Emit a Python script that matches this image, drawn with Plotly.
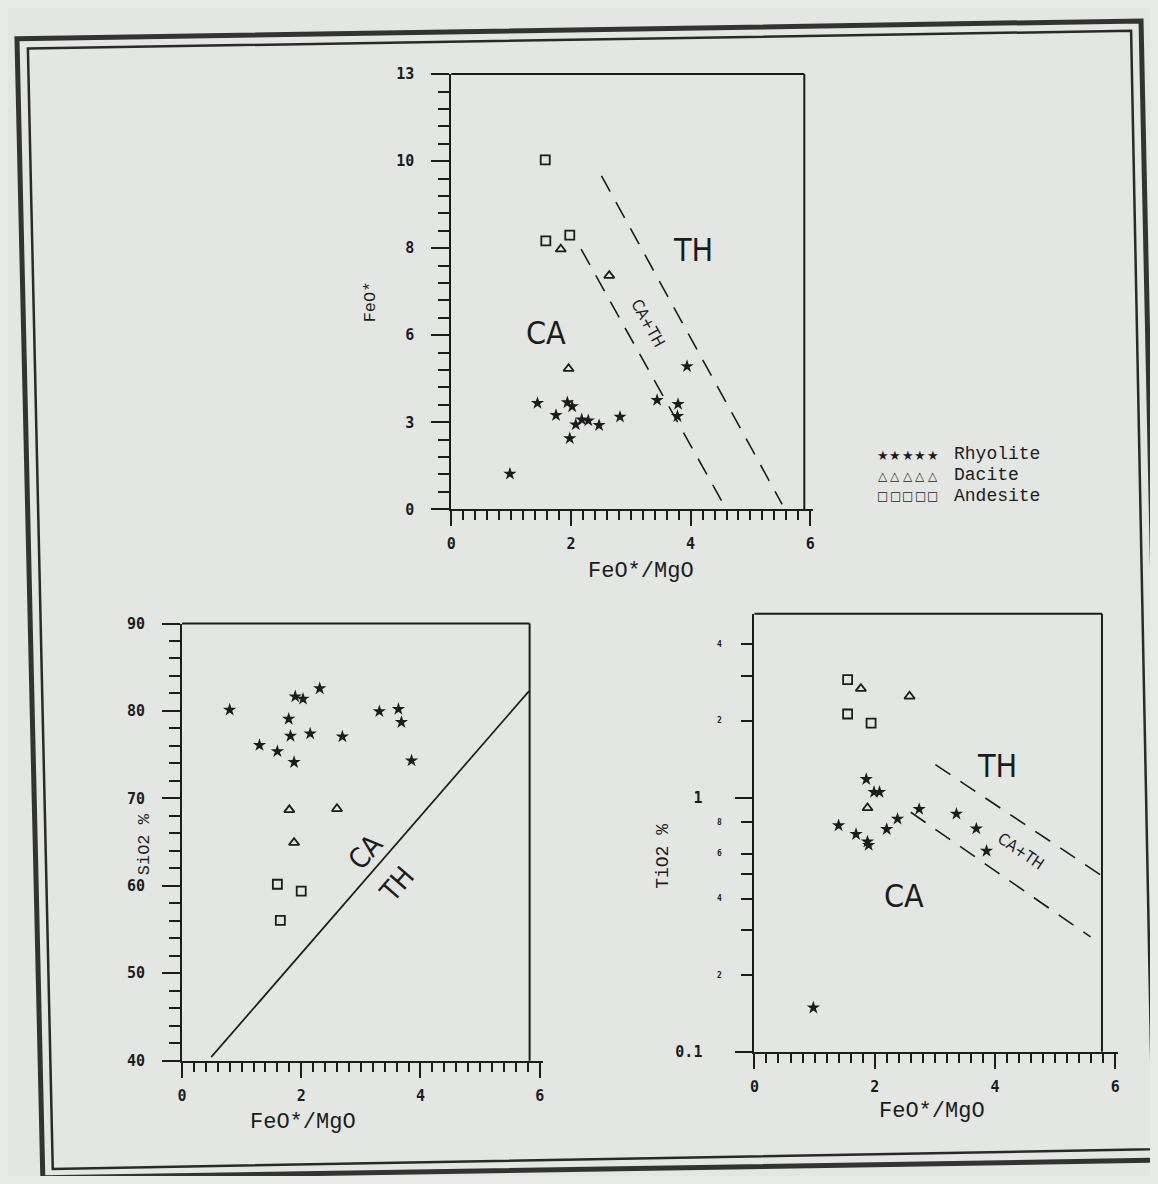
import math
import plotly.graph_objects as go

# page window is 1158x1184; the html body keeps its default 8px margin
WIN_W, WIN_H = 1158, 1184
PAD = 8
FW, FH = WIN_W - 2 * PAD, WIN_H - 2 * PAD

# ---------------- data: top panel (FeO* vs FeO*/MgO) ----------------
top_rhy_x = [0.98, 1.44, 1.75, 1.94, 2.02, 1.98, 2.08, 2.18, 2.29, 2.47, 2.82, 3.44, 3.79, 3.78, 3.94]
top_rhy_y = [1.06, 3.17, 2.81, 3.19, 3.07, 2.12, 2.53, 2.68, 2.65, 2.51, 2.76, 3.26, 3.14, 2.78, 4.27]
top_dac_x = [1.83, 2.64, 1.96]
top_dac_y = [7.77, 6.98, 4.20]
top_and_x = [1.57, 1.58, 1.98]
top_and_y = [10.44, 8.02, 8.19]
top_line1_x = [2.17, 4.55]
top_line1_y = [7.77, 0.15]
top_line2_x = [2.51, 5.53]
top_line2_y = [9.96, 0.15]
top_ytickvals = [0, 2.6, 5.2, 7.8, 10.4, 13]
top_yticktext = ["0", "3", "6", "8", "10", "13"]

# ---------------- data: bottom-left panel (SiO2 vs FeO*/MgO) ----------------
bl_rhy_x = [0.80, 1.30, 1.60, 1.79, 1.82, 1.88, 1.90, 2.03, 2.15, 2.31, 2.69, 3.31, 3.63, 3.68, 3.85]
bl_rhy_y = [80.13, 76.08, 75.37, 79.08, 77.13, 74.13, 81.64, 81.37, 77.40, 82.57, 77.06, 79.95, 80.21, 78.71, 74.32]
bl_dac_x = [1.80, 1.88, 2.60]
bl_dac_y = [68.69, 64.94, 68.81]
bl_and_x = [1.60, 2.00, 1.65]
bl_and_y = [60.18, 59.39, 56.05]
bl_line_x = [0.49, 5.82]
bl_line_y = [40.4, 82.27]

# ---------------- data: bottom-right panel (TiO2 vs FeO*/MgO, log) ----------------
br_rhy_x = [1.86, 1.99, 2.08, 1.40, 1.69, 1.88, 1.90, 2.20, 2.38, 2.74, 3.36, 3.69, 3.86, 0.98]
br_rhy_y = [1.18, 1.05, 1.05, 0.776, 0.717, 0.67, 0.65, 0.75, 0.824, 0.90, 0.862, 0.754, 0.616, 0.149]
br_dac_x = [1.77, 2.58, 1.88]
br_dac_y = [2.68, 2.50, 0.91]
br_and_x = [1.55, 1.55, 1.94]
br_and_y = [2.91, 2.13, 1.96]
br_line1_x = [3.01, 5.82]
br_line1_y = [1.346, 0.485]
br_line2_x = [2.60, 5.59]
br_line2_y = [0.875, 0.283]
br_minor_vals = [0.2, 0.3, 0.4, 0.5, 0.6, 0.8, 2, 3, 4]
br_small_vals = [4, 2, 0.8, 0.6, 0.4, 0.2]
br_small_text = ["4", "2", "8", "6", "4", "2"]

legend_names = ["Rhyolite", "Dacite", "Andesite"]
legend_glyphs = ["\u2605", "\u25b3", "\u25a1"]

# ---------------- helpers (window pixel -> paper fraction) ----------------
def px(x):
    return (x - PAD) / FW

def py(y):
    return 1 - (y - PAD) / FH

INK = "#1c1c1c"
TICKFONT = dict(family="DejaVu Sans Mono", size=15, color=INK, weight="bold")
TITLEFAM = "Liberation Mono"
REGFONT = "DejaVu Sans Condensed, Liberation Sans Narrow, Roboto Condensed, Arial Narrow, DejaVu Sans, sans-serif"

fig = go.Figure()

def add_points(xa, ya, rx, ry, dx, dy, ax_, ay_):
    xr = "x" if xa == 1 else f"x{xa}"
    yr = "y" if ya == 1 else f"y{ya}"
    fig.add_trace(go.Scatter(x=rx, y=ry, mode="markers", xaxis=xr, yaxis=yr,
                             marker=dict(symbol="star", size=10, color=INK, line=dict(width=0))))
    fig.add_trace(go.Scatter(x=dx, y=dy, mode="markers", xaxis=xr, yaxis=yr,
                             marker=dict(symbol="triangle-up-open", size=9, color=INK, line=dict(width=1.8, color=INK))))
    fig.add_trace(go.Scatter(x=ax_, y=ay_, mode="markers", xaxis=xr, yaxis=yr,
                             marker=dict(symbol="square-open", size=9, color=INK, line=dict(width=1.8, color=INK))))

add_points(1, 1, top_rhy_x, top_rhy_y, top_dac_x, top_dac_y, top_and_x, top_and_y)
add_points(2, 2, bl_rhy_x, bl_rhy_y, bl_dac_x, bl_dac_y, bl_and_x, bl_and_y)
add_points(3, 3, br_rhy_x, br_rhy_y, br_dac_x, br_dac_y, br_and_x, br_and_y)

dash = "18px,12px"
for lx, ly in [(top_line1_x, top_line1_y), (top_line2_x, top_line2_y)]:
    fig.add_trace(go.Scatter(x=lx, y=ly, mode="lines", xaxis="x", yaxis="y",
                             line=dict(color=INK, width=1.6, dash=dash)))
fig.add_trace(go.Scatter(x=bl_line_x, y=bl_line_y, mode="lines", xaxis="x2", yaxis="y2",
                         line=dict(color=INK, width=1.7)))
for lx, ly in [(br_line1_x, br_line1_y), (br_line2_x, br_line2_y)]:
    fig.add_trace(go.Scatter(x=lx, y=ly, mode="lines", xaxis="x3", yaxis="y3",
                             line=dict(color=INK, width=1.6, dash=dash)))

# ---------------- axes ----------------
def xaxis_cfg(d0, d1, anchor):
    return dict(domain=[d0, d1], range=[0, 6.05], anchor=anchor,
                showline=True, linecolor=INK, linewidth=2, showgrid=False, zeroline=False,
                ticks="outside", ticklen=15, tickwidth=2, tickcolor=INK,
                tickmode="array", tickvals=[0, 2, 4, 6], ticktext=["0", "2", "4", "6"],
                tickfont=TICKFONT, ticklabelstandoff=5,
                minor=dict(tickmode="linear", tick0=0, dtick=0.2, ticks="outside",
                           ticklen=9, tickwidth=1.7, tickcolor=INK))

top_xd = [px(449), px(449 + 6.05 * 60.2)]
bl_xd = [px(178), px(178 + 6.05 * 60.0)]
br_xd = [px(754), px(754 + 6.05 * 60.5)]
top_yd = [py(508), py(66)]
bl_yd = [py(1068), py(624)]
br_yd = [py(1059), py(614)]

fig.update_layout(
    xaxis=xaxis_cfg(*top_xd, "y"),
    xaxis2=xaxis_cfg(*bl_xd, "y2"),
    xaxis3=xaxis_cfg(*br_xd, "y3"),
    yaxis=dict(domain=top_yd, range=[0, 13], anchor="x",
               showline=True, linecolor=INK, linewidth=2, showgrid=False, zeroline=False,
               ticks="outside", ticklen=18, tickwidth=2, tickcolor=INK,
               tickmode="array", tickvals=top_ytickvals, ticktext=top_yticktext,
               tickfont=TICKFONT, ticklabelstandoff=14,
               minor=dict(tickmode="linear", tick0=0, dtick=0.52, ticks="outside",
                          ticklen=11, tickwidth=1.7, tickcolor=INK)),
    yaxis2=dict(domain=bl_yd, range=[40, 90], anchor="x2",
                showline=True, linecolor=INK, linewidth=2, showgrid=False, zeroline=False,
                ticks="outside", ticklen=18, tickwidth=2, tickcolor=INK,
                tickmode="linear", tick0=40, dtick=10,
                tickfont=TICKFONT, ticklabelstandoff=14,
                minor=dict(tickmode="linear", tick0=40, dtick=2, ticks="outside",
                           ticklen=11, tickwidth=1.7, tickcolor=INK)),
    yaxis3=dict(domain=br_yd, type="log", range=[-1, 0.723], anchor="x3",
                showline=True, linecolor=INK, linewidth=2, showgrid=False, zeroline=False,
                ticks="outside", ticklen=17, tickwidth=2, tickcolor=INK,
                tickmode="array", tickvals=[0.1, 1], ticktext=["0.1", "1"],
                tickfont=TICKFONT, ticklabelstandoff=30,
                minor=dict(tickmode="array", tickvals=br_minor_vals, ticks="outside",
                           ticklen=11, tickwidth=1.7, tickcolor=INK)),
)

shapes = []
# plot box top/right edges
for xr, yr, right in [("x", "y", 5.9), ("x2", "y2", 5.83), ("x3", "y3", 5.78)]:
    fr = right / 6.05
    shapes.append(dict(type="line", xref=f"{xr} domain", yref=f"{yr} domain",
                       x0=0, y0=1, x1=fr, y1=1, line=dict(color=INK, width=2)))
    shapes.append(dict(type="line", xref=f"{xr} domain", yref=f"{yr} domain",
                       x0=fr, y0=0, x1=fr, y1=1, line=dict(color=INK, width=2)))

def quad(pts):
    return "M " + " L ".join(f"{px(a):.5f},{py(b):.5f}" for a, b in pts) + " Z"

shapes.append(dict(type="path", xref="paper", yref="paper",
                   path=quad([(12, 30), (1143, 12), (1167, 1169), (38, 1187)]),
                   line=dict(color="#333333", width=5)))
shapes.append(dict(type="path", xref="paper", yref="paper",
                   path=quad([(23, 40), (1133, 22), (1155, 1158), (48, 1178)]),
                   line=dict(color="#2a2a2a", width=2.5)))

ann = []
def reg(text, x, y, xr, yr, size, angle=0):
    ann.append(dict(text=text, x=x, y=y, xref=xr, yref=yr, showarrow=False,
                    xanchor="center", yanchor="middle",
                    textangle=angle, font=dict(family=REGFONT, size=size, color=INK)))

reg("CA", 1.59, 5.26, "x", "y", 32)
reg("TH", 4.04, 7.74, "x", "y", 32)
reg("CA+TH", 3.29, 5.55, "x", "y", 16, 61)
reg("CA", 3.09, 63.9, "x2", "y2", 28, -49)
reg("TH", 3.60, 60.2, "x2", "y2", 28, -49)
reg("TH", 4.03, math.log10(1.33), "x3", "y3", 32)
reg("CA", 2.49, math.log10(0.41), "x3", "y3", 32)
reg("CA+TH", 4.44, math.log10(0.612), "x3", "y3", 16, 34)

# small log-axis labels
for v, t in zip(br_small_vals, br_small_text):
    ann.append(dict(text=t, x=px(719), y=math.log10(v), xref="paper", yref="y3",
                    xanchor="center", yanchor="middle", showarrow=False,
                    font=dict(family="DejaVu Sans Mono", size=8, color=INK, weight="bold")))

# axis titles
def title(text, x, y, angle=0, size=20):
    ann.append(dict(text=text, x=px(x), y=py(y), xref="paper", yref="paper", showarrow=False,
                    xanchor="center", yanchor="middle", textangle=angle,
                    font=dict(family=TITLEFAM, size=size, color=INK)))

title("FeO*/MgO", 640, 571, size=22)
title("FeO*/MgO", 300, 1131, size=22)
title("FeO*/MgO", 933, 1120, size=22)
title("FeO*", 368, 297, -90, 17)
title("SiO2 %", 140, 848, -90, 17)
title("TiO2 %", 662, 860, -90, 18)

# legend
rows_y = [452, 473, 494]
sym_sizes = [13, 12, 12]
sym_weights = ["normal", "bold", "bold"]
for name, glyph, ry, ss, sw in zip(legend_names, legend_glyphs, rows_y, sym_sizes, sym_weights):
    for i in range(5):
        ann.append(dict(text=glyph, x=px(883 + i * 12.6), y=py(ry + 1), xref="paper", yref="paper",
                        xanchor="center", yanchor="middle", showarrow=False,
                        font=dict(family="DejaVu Sans", size=ss, color=INK, weight=sw)))
    ann.append(dict(text=name, x=px(953), y=py(ry), xref="paper", yref="paper", showarrow=False,
                    xanchor="left", yanchor="middle",
                    font=dict(family="Liberation Mono", size=18, color=INK)))

fig.update_layout(
    width=FW, height=FH, autosize=False,
    margin=dict(l=0, r=0, t=0, b=0),
    paper_bgcolor="#e4e6e3", plot_bgcolor="rgba(0,0,0,0)",
    showlegend=False, shapes=shapes, annotations=ann,
)

fig.write_html("out.html", config={"displayModeBar": False},
               post_script="document.body.style.background='#e9ebe8';")
